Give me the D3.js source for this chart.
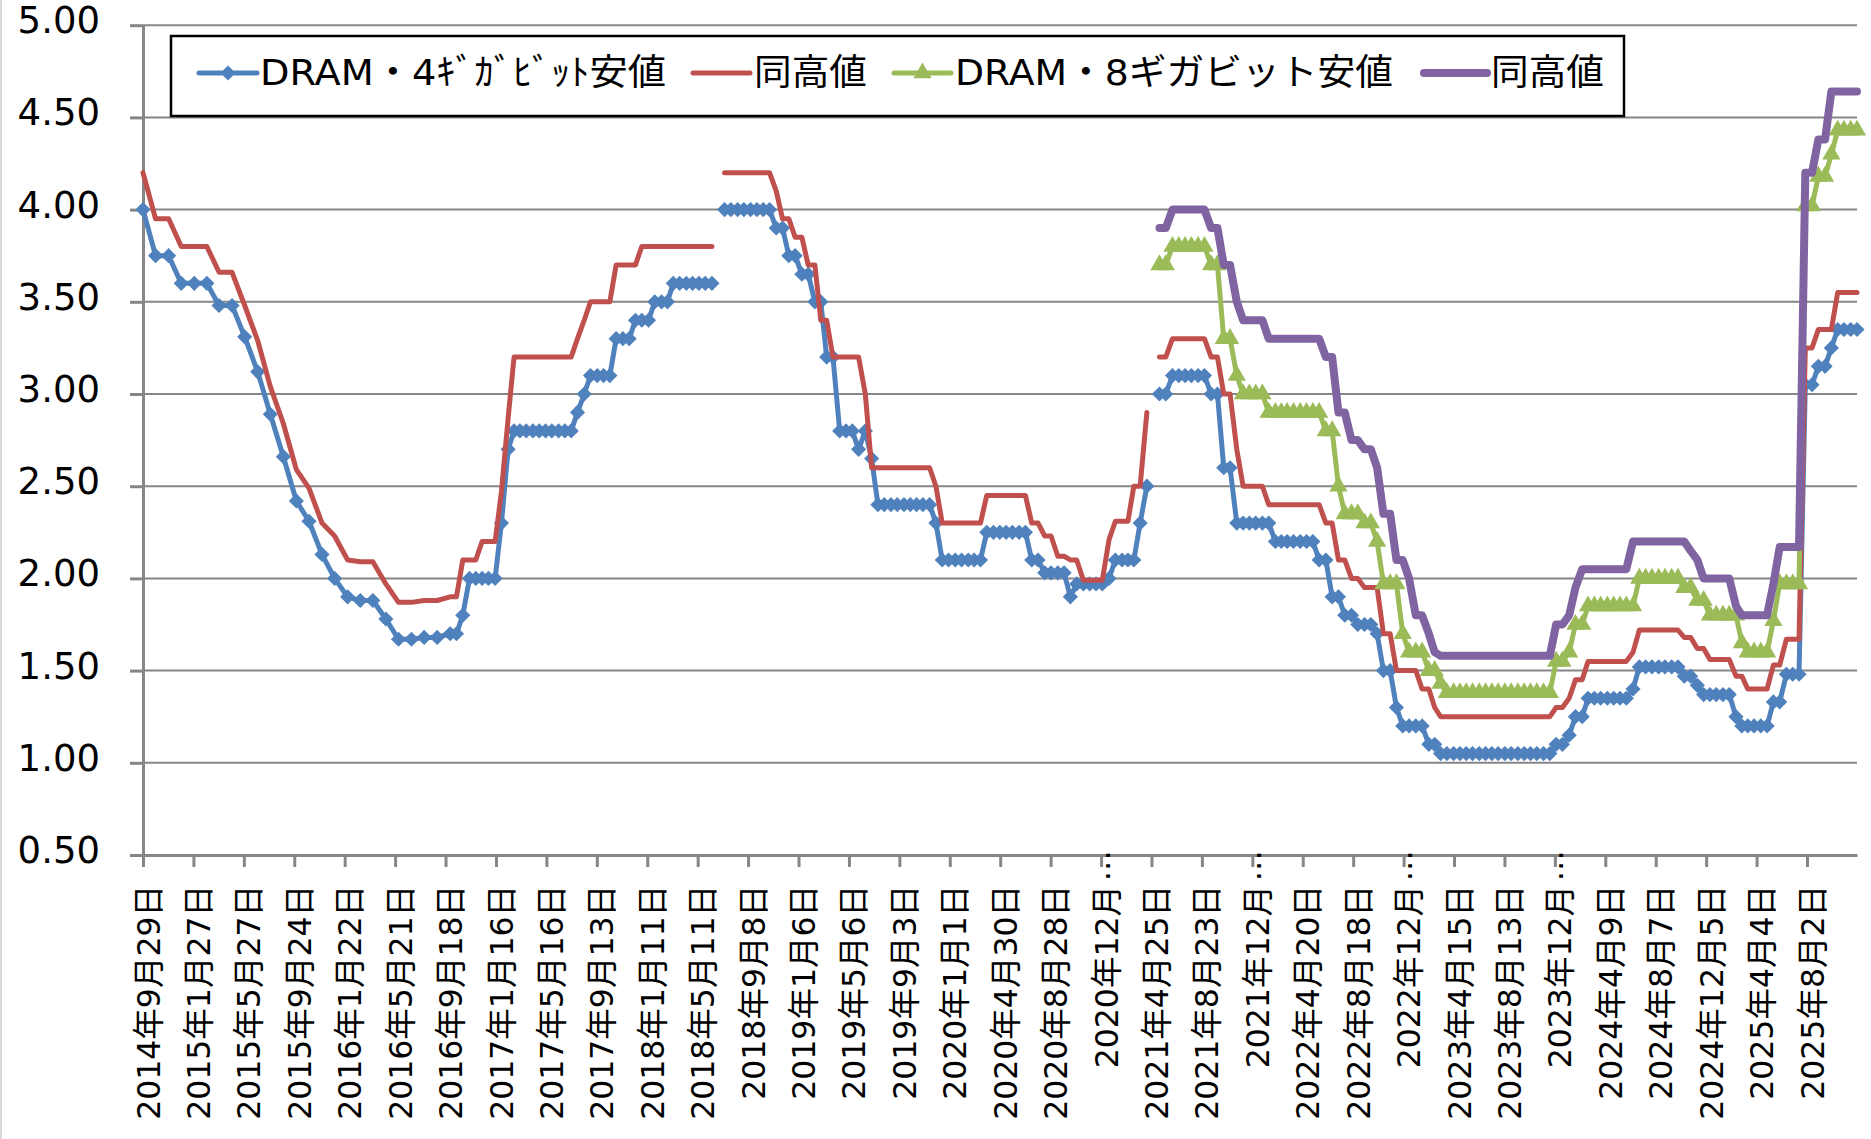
<!DOCTYPE html>
<html>
<head>
<meta charset="utf-8">
<script src="https://cdn.jsdelivr.net/npm/d3@7"></script>
<style>
  body { margin: 0; background: #fff; }
  svg text { font-family: "DejaVu Sans", "Noto Sans CJK JP", sans-serif; fill: #000; }
</style>
</head>
<body>
<svg id="chart" width="1871" height="1139"></svg>
<script>
// observation dates: monthly until Sep 2016, twice a month after that
var monthlyDates = [
  "2014-09-29","2014-10-29","2014-11-29","2014-12-29",
  "2015-01-29","2015-02-28","2015-03-29","2015-04-29","2015-05-29","2015-06-29","2015-07-29","2015-08-29","2015-09-29","2015-10-29","2015-11-29","2015-12-29",
  "2016-01-29","2016-02-28","2016-03-29","2016-04-29","2016-05-29","2016-06-29","2016-07-29","2016-08-29","2016-09-29"
];
var semiMonthlyDates = [
  "2016-10-14","2016-10-29","2016-11-14","2016-11-29","2016-12-14","2016-12-29",
  "2017-01-14","2017-01-29","2017-02-14","2017-02-28","2017-03-14","2017-03-29","2017-04-14","2017-04-29","2017-05-14","2017-05-29","2017-06-14","2017-06-29","2017-07-14","2017-07-29","2017-08-14","2017-08-29","2017-09-14","2017-09-29","2017-10-14","2017-10-29","2017-11-14","2017-11-29","2017-12-14","2017-12-29",
  "2018-01-14","2018-01-29","2018-02-14","2018-02-28","2018-03-14","2018-03-29","2018-04-14","2018-04-29","2018-05-14","2018-05-29","2018-06-14","2018-06-29","2018-07-14","2018-07-29","2018-08-14","2018-08-29","2018-09-14","2018-09-29","2018-10-14","2018-10-29","2018-11-14","2018-11-29","2018-12-14","2018-12-29",
  "2019-01-14","2019-01-29","2019-02-14","2019-02-28","2019-03-14","2019-03-29","2019-04-14","2019-04-29","2019-05-14","2019-05-29","2019-06-14","2019-06-29","2019-07-14","2019-07-29","2019-08-14","2019-08-29","2019-09-14","2019-09-29","2019-10-14","2019-10-29","2019-11-14","2019-11-29","2019-12-14","2019-12-29",
  "2020-01-14","2020-01-29","2020-02-14","2020-02-28","2020-03-14","2020-03-29","2020-04-14","2020-04-29","2020-05-14","2020-05-29","2020-06-14","2020-06-29","2020-07-14","2020-07-29","2020-08-14","2020-08-29","2020-09-14","2020-09-29","2020-10-14","2020-10-29","2020-11-14","2020-11-29","2020-12-14","2020-12-29",
  "2021-01-14","2021-01-29","2021-02-14","2021-02-28","2021-03-14","2021-03-29","2021-04-14","2021-04-29","2021-05-14","2021-05-29","2021-06-14","2021-06-29","2021-07-14","2021-07-29","2021-08-14","2021-08-29","2021-09-14","2021-09-29","2021-10-14","2021-10-29","2021-11-14","2021-11-29","2021-12-14","2021-12-29",
  "2022-01-14","2022-01-29","2022-02-14","2022-02-28","2022-03-14","2022-03-29","2022-04-14","2022-04-29","2022-05-14","2022-05-29","2022-06-14","2022-06-29","2022-07-14","2022-07-29","2022-08-14","2022-08-29","2022-09-14","2022-09-29","2022-10-14","2022-10-29","2022-11-14","2022-11-29","2022-12-14","2022-12-29",
  "2023-01-14","2023-01-29","2023-02-14","2023-02-28","2023-03-14","2023-03-29","2023-04-14","2023-04-29","2023-05-14","2023-05-29","2023-06-14","2023-06-29","2023-07-14","2023-07-29","2023-08-14","2023-08-29","2023-09-14","2023-09-29","2023-10-14","2023-10-29","2023-11-14","2023-11-29","2023-12-14","2023-12-29",
  "2024-01-14","2024-01-29","2024-02-14","2024-02-28","2024-03-14","2024-03-29","2024-04-14","2024-04-29","2024-05-14","2024-05-29","2024-06-14","2024-06-29","2024-07-14","2024-07-29","2024-08-14","2024-08-29","2024-09-14","2024-09-29","2024-10-14","2024-10-29","2024-11-14","2024-11-29","2024-12-14","2024-12-29",
  "2025-01-14","2025-01-29","2025-02-14","2025-02-28","2025-03-14","2025-03-29","2025-04-14","2025-04-29","2025-05-14","2025-05-29","2025-06-14","2025-06-29","2025-07-14","2025-07-29","2025-08-14","2025-08-29","2025-09-14","2025-09-29","2025-10-14","2025-10-29","2025-11-14","2025-11-29"
];
var dates = monthlyDates.concat(semiMonthlyDates);

// DRAM 4Gb, low price (USD); null = series break
var dram4Low = [
  4.00,3.75,3.75,3.60,3.60,3.60,3.48,3.48,3.31,3.12,2.89,2.66,2.42,2.31,2.13,2.00,1.90,1.88,1.88,1.78,1.67,1.67,1.68,1.68,1.70,
  1.70,1.80,2.00,2.00,2.00,2.00,
  2.00,2.30,2.70,2.80,2.80,2.80,2.80,2.80,2.80,2.80,2.80,2.80,2.80,2.90,3.00,3.10,3.10,3.10,3.10,3.30,3.30,3.30,3.40,3.40,
  3.40,3.50,3.50,3.50,3.60,3.60,3.60,3.60,3.60,3.60,3.60,null,4.00,4.00,4.00,4.00,4.00,4.00,4.00,4.00,3.90,3.90,3.75,3.75,
  3.65,3.65,3.50,3.50,3.20,3.20,2.80,2.80,2.80,2.70,2.80,2.65,2.40,2.40,2.40,2.40,2.40,2.40,2.40,2.40,2.40,2.30,2.10,2.10,
  2.10,2.10,2.10,2.10,2.10,2.25,2.25,2.25,2.25,2.25,2.25,2.25,2.10,2.10,2.03,2.03,2.03,2.03,1.90,1.97,1.97,1.97,1.97,1.97,
  2.00,2.10,2.10,2.10,2.10,2.30,2.50,null,3.00,3.00,3.10,3.10,3.10,3.10,3.10,3.10,3.00,3.00,2.60,2.60,2.30,2.30,2.30,2.30,
  2.30,2.30,2.20,2.20,2.20,2.20,2.20,2.20,2.20,2.10,2.10,1.90,1.90,1.80,1.80,1.75,1.75,1.75,1.70,1.50,1.50,1.30,1.20,1.20,
  1.20,1.20,1.10,1.10,1.05,1.05,1.05,1.05,1.05,1.05,1.05,1.05,1.05,1.05,1.05,1.05,1.05,1.05,1.05,1.05,1.05,1.05,1.10,1.10,
  1.15,1.25,1.25,1.35,1.35,1.35,1.35,1.35,1.35,1.35,1.40,1.52,1.52,1.52,1.52,1.52,1.52,1.52,1.47,1.47,1.42,1.37,1.37,1.37,
  1.37,1.37,1.25,1.20,1.20,1.20,1.20,1.20,1.33,1.33,1.48,1.48,1.48,3.05,3.05,3.15,3.15,3.25,3.35,3.35,3.35,3.35
];
// DRAM 4Gb, high price
var dram4High = [
  4.20,3.95,3.95,3.80,3.80,3.80,3.66,3.66,3.48,3.29,3.04,2.84,2.59,2.49,2.30,2.23,2.10,2.09,2.09,1.97,1.87,1.87,1.88,1.88,1.90,
  1.90,2.10,2.10,2.10,2.20,2.20,
  2.20,2.47,2.87,3.20,3.20,3.20,3.20,3.20,3.20,3.20,3.20,3.20,3.20,3.30,3.40,3.50,3.50,3.50,3.50,3.70,3.70,3.70,3.70,3.80,
  3.80,3.80,3.80,3.80,3.80,3.80,3.80,3.80,3.80,3.80,3.80,null,4.20,4.20,4.20,4.20,4.20,4.20,4.20,4.20,4.10,3.95,3.95,3.85,
  3.85,3.70,3.70,3.40,3.40,3.20,3.20,3.20,3.20,3.20,3.00,2.60,2.60,2.60,2.60,2.60,2.60,2.60,2.60,2.60,2.60,2.50,2.30,2.30,
  2.30,2.30,2.30,2.30,2.30,2.45,2.45,2.45,2.45,2.45,2.45,2.45,2.30,2.30,2.23,2.23,2.12,2.12,2.10,2.10,1.99,1.99,1.99,1.99,
  2.21,2.31,2.31,2.31,2.50,2.50,2.90,null,3.20,3.20,3.30,3.30,3.30,3.30,3.30,3.30,3.20,3.20,3.00,3.00,2.70,2.50,2.50,2.50,
  2.50,2.40,2.40,2.40,2.40,2.40,2.40,2.40,2.40,2.40,2.30,2.30,2.10,2.10,2.00,2.00,1.95,1.95,1.95,1.70,1.70,1.50,1.50,1.50,
  1.50,1.40,1.40,1.30,1.25,1.25,1.25,1.25,1.25,1.25,1.25,1.25,1.25,1.25,1.25,1.25,1.25,1.25,1.25,1.25,1.25,1.25,1.30,1.30,
  1.35,1.45,1.45,1.55,1.55,1.55,1.55,1.55,1.55,1.55,1.60,1.72,1.72,1.72,1.72,1.72,1.72,1.72,1.68,1.68,1.62,1.62,1.56,1.56,
  1.56,1.56,1.47,1.47,1.40,1.40,1.40,1.40,1.53,1.53,1.67,1.67,1.67,3.25,3.25,3.35,3.35,3.35,3.55,3.55,3.55,3.55
];

// DRAM 8Gb series start in May 2021
var dram8Start = "2021-05-14";
var dram8Low = [
  3.70,3.70,3.80,3.80,3.80,3.80,3.80,3.80,3.70,3.70,3.30,3.30,3.10,3.00,3.00,3.00,
  3.00,2.90,2.90,2.90,2.90,2.90,2.90,2.90,2.90,2.90,2.80,2.80,2.50,2.35,2.35,2.35,2.30,2.30,2.20,1.97,1.97,1.97,1.70,1.60,
  1.60,1.60,1.50,1.50,1.43,1.38,1.38,1.38,1.38,1.38,1.38,1.38,1.38,1.38,1.38,1.38,1.38,1.38,1.38,1.38,1.38,1.38,1.55,1.55,
  1.60,1.75,1.75,1.85,1.85,1.85,1.85,1.85,1.85,1.85,1.85,2.00,2.00,2.00,2.00,2.00,2.00,2.00,1.95,1.95,1.88,1.88,1.80,1.80,
  1.80,1.80,1.80,1.65,1.60,1.60,1.60,1.60,1.77,1.97,1.97,1.97,1.97,4.02,4.02,4.18,4.18,4.30,4.43,4.43,4.43,4.43
];
var dram8High = [
  3.90,3.90,4.00,4.00,4.00,4.00,4.00,4.00,3.90,3.90,3.70,3.70,3.50,3.40,3.40,3.40,
  3.40,3.30,3.30,3.30,3.30,3.30,3.30,3.30,3.30,3.30,3.20,3.20,2.90,2.90,2.75,2.75,2.70,2.70,2.60,2.35,2.35,2.10,2.10,2.00,
  1.80,1.80,1.70,1.60,1.58,1.58,1.58,1.58,1.58,1.58,1.58,1.58,1.58,1.58,1.58,1.58,1.58,1.58,1.58,1.58,1.58,1.58,1.75,1.75,
  1.80,1.95,2.05,2.05,2.05,2.05,2.05,2.05,2.05,2.05,2.20,2.20,2.20,2.20,2.20,2.20,2.20,2.20,2.20,2.15,2.10,2.00,2.00,2.00,
  2.00,2.00,1.85,1.80,1.80,1.80,1.80,1.80,1.97,2.17,2.17,2.17,2.17,4.20,4.20,4.38,4.38,4.64,4.64,4.64,4.64,4.64
];

var tickDates = [
  "2014-09-29","2015-01-27","2015-05-27","2015-09-24","2016-01-22","2016-05-21","2016-09-18","2017-01-16",
  "2017-05-16","2017-09-13","2018-01-11","2018-05-11","2018-09-08","2019-01-06","2019-05-06","2019-09-03",
  "2020-01-01","2020-04-30","2020-08-28","2020-12-26","2021-04-25","2021-08-23","2021-12-21","2022-04-20",
  "2022-08-18","2022-12-16","2023-04-15","2023-08-13","2023-12-11","2024-04-09","2024-08-07","2024-12-05",
  "2025-04-04","2025-08-02"
];
var tickLabels = [
  "2014年9月29日","2015年1月27日","2015年5月27日","2015年9月24日","2016年1月22日","2016年5月21日","2016年9月18日","2017年1月16日",
  "2017年5月16日","2017年9月13日","2018年1月11日","2018年5月11日","2018年9月8日","2019年1月6日","2019年5月6日","2019年9月3日",
  "2020年1月1日","2020年4月30日","2020年8月28日","2020年12月…","2021年4月25日","2021年8月23日","2021年12月…","2022年4月20日",
  "2022年8月18日","2022年12月…","2023年4月15日","2023年8月13日","2023年12月…","2024年4月9日","2024年8月7日","2024年12月5日",
  "2025年4月4日","2025年8月2日"
];
var yTicks = [0.5, 1.0, 1.5, 2.0, 2.5, 3.0, 3.5, 4.0, 4.5, 5.0];

var seriesNames = ["DRAM・4ｷﾞｶﾞﾋﾞｯﾄ安値", "同高値", "DRAM・8ギガビット安値", "同高値"];
var seriesColors = ["#4F81BD", "#C0504D", "#9BBB59", "#8064A2"];

var parseDate = d3.timeParse("%Y-%m-%d");

function pointsFor(values, startDate) {
  var offset = dates.indexOf(startDate);
  if (offset < 0 || offset + values.length !== dates.length) {
    throw new Error("series length mismatch: " + values.length + " from " + startDate);
  }
  return values.map(function(v, i) {
    return { date: parseDate(dates[offset + i]), value: v };
  });
}

var series = [
  { name: seriesNames[0], color: seriesColors[0], width: 5, marker: "diamond", points: pointsFor(dram4Low, dates[0]) },
  { name: seriesNames[1], color: seriesColors[1], width: 5, marker: null, points: pointsFor(dram4High, dates[0]) },
  { name: seriesNames[2], color: seriesColors[2], width: 5, marker: "triangle", points: pointsFor(dram8Low, dram8Start) },
  { name: seriesNames[3], color: seriesColors[3], width: 8, marker: null, points: pointsFor(dram8High, dram8Start) }
];

var svg = d3.select("#chart");
var plotLeft = 143, plotRight = 1857, plotTop = 25.2, plotBottom = 855;

var x = d3.scaleTime()
  .domain([parseDate(dates[0]), parseDate(dates[dates.length - 1])])
  .range([plotLeft, plotRight]);
var y = d3.scaleLinear().domain([0.5, 5]).range([plotBottom, plotTop]);

var axisColor = "#868686";

// faint chart-area edge on the left
svg.append("line")
  .attr("x1", 1).attr("x2", 1).attr("y1", 0).attr("y2", 1139)
  .attr("stroke", "#d9d9d9").attr("stroke-width", 2);

// horizontal gridlines
svg.append("g").selectAll("line").data(yTicks.slice(1)).enter().append("line")
  .attr("x1", plotLeft).attr("x2", plotRight)
  .attr("y1", function(d) { return y(d); })
  .attr("y2", function(d) { return y(d); })
  .attr("stroke", axisColor)
  .attr("stroke-width", 2);

// y axis
var yAxis = svg.append("g")
  .attr("transform", "translate(" + plotLeft + ",0)")
  .call(d3.axisLeft(y).tickValues(yTicks).tickFormat(d3.format(".2f")).tickSize(13).tickSizeOuter(0));
yAxis.select(".domain").attr("stroke", axisColor).attr("stroke-width", 3);
yAxis.selectAll(".tick line").attr("stroke", axisColor).attr("stroke-width", 3);
yAxis.selectAll(".tick text")
  .attr("x", -43).attr("dy", "0.2em")
  .style("font-size", "37px");

// x axis
var xAxis = svg.append("g")
  .attr("transform", "translate(0," + plotBottom + ")")
  .call(d3.axisBottom(x)
    .tickValues(tickDates.map(parseDate))
    .tickFormat(function(d, i) { return tickLabels[i]; })
    .tickSize(12).tickSizeOuter(0));
xAxis.select(".domain").attr("stroke", axisColor).attr("stroke-width", 3);
xAxis.selectAll(".tick line").attr("stroke", axisColor).attr("stroke-width", 3);
xAxis.selectAll(".tick text")
  .attr("x", 0).attr("y", 0)
  .attr("dy", "0.35em")
  .attr("text-anchor", "end")
  .attr("transform", "translate(5,30) rotate(-90)")
  .style("font-size", "31.5px")
  .text(function(d, i) { return tickLabels[i].replace("…", ""); });

// labels cut short by the chart get their ellipsis above the text
xAxis.selectAll(".tick").filter(function(d, i) { return tickLabels[i].indexOf("…") >= 0; })
  .append("text")
  .attr("x", 0).attr("y", 0)
  .attr("dy", "0.35em")
  .attr("text-anchor", "end")
  .attr("transform", "translate(5,-5) rotate(-90)")
  .style("font-size", "31.5px")
  .text("⋯");

// series
var line = d3.line()
  .defined(function(d) { return d.value != null; })
  .x(function(d) { return x(d.date); })
  .y(function(d) { return y(d.value); });

var diamond = d3.symbol().type(d3.symbolSquare).size(115);
var triangle = d3.symbol().type(d3.symbolTriangle).size(145);

series.forEach(function(s) {
  var g = svg.append("g");
  g.append("path")
    .datum(s.points)
    .attr("d", line)
    .attr("fill", "none")
    .attr("stroke", s.color)
    .attr("stroke-width", s.width)
    .attr("stroke-linejoin", "round")
    .attr("stroke-linecap", "round");

  if (s.marker) {
    g.selectAll(".marker").data(s.points.filter(function(d) { return d.value != null; }))
      .enter().append("path")
      .attr("class", "marker")
      .attr("d", s.marker === "diamond" ? diamond : triangle)
      .attr("transform", function(d) {
        return "translate(" + x(d.date) + "," + y(d.value) + ")" + (s.marker === "diamond" ? " rotate(45)" : "");
      })
      .attr("fill", s.color);
  }
});

// legend
var legendItems = [
  { lineX: [199, 257], textX: 260, textW: 406 },
  { lineX: [693, 750], textX: 754, textW: 113 },
  { lineX: [894, 951], textX: 955, textW: 438 },
  { lineX: [1424, 1487], textX: 1491, textW: 113 }
];
var legend = svg.append("g");
legend.append("rect")
  .attr("x", 171).attr("y", 36).attr("width", 1453).attr("height", 80)
  .attr("fill", "#fff").attr("stroke", "#000").attr("stroke-width", 2.5);

series.forEach(function(s, i) {
  var item = legendItems[i];
  legend.append("line")
    .attr("x1", item.lineX[0]).attr("x2", item.lineX[1])
    .attr("y1", 73).attr("y2", 73)
    .attr("stroke", s.color).attr("stroke-width", s.width)
    .attr("stroke-linecap", "round");
  if (s.marker) {
    legend.append("path")
      .attr("d", s.marker === "diamond" ? diamond : triangle)
      .attr("transform", "translate(" + (item.lineX[0] + item.lineX[1]) / 2 + ",73)" + (s.marker === "diamond" ? " rotate(45)" : ""))
      .attr("fill", s.color);
  }
  legend.append("text")
    .attr("x", item.textX).attr("y", 85)
    .attr("textLength", item.textW)
    .attr("lengthAdjust", "spacingAndGlyphs")
    .style("font-size", "36px")
    .text(s.name);
});
</script>
</body>
</html>
